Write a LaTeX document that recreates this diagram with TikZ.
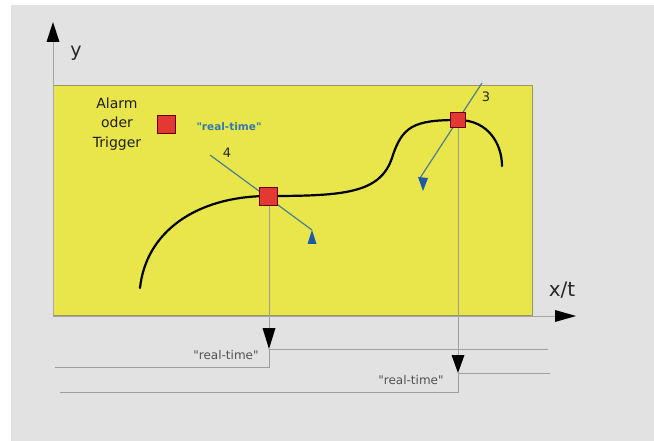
\documentclass[tikz,border=0pt]{standalone}
\usepackage{fontspec}
\setmainfont{DejaVu Sans}
\newcommand{\qrt}{\textquotedbl real-time\textquotedbl}
\begin{document}
\begin{tikzpicture}[x=1pt,y=-1pt,
  every node/.style={inner sep=0pt,outer sep=0pt},
  axisline/.style={draw=gray!70,line width=0.7pt},
  guide/.style={draw=gray!75,line width=0.6pt},
  tip/.style={fill=black},
  mark/.style={draw=red!40!black,fill=markred,line width=0.6pt,minimum size=#1},
  rt/.style={font=\fontsize{12}{14}\selectfont,text=black!68}]
\definecolor{bgray}{RGB}{226,226,226}
\definecolor{plotyellow}{RGB}{232,230,74}
\definecolor{rayblue}{RGB}{80,125,150}
\definecolor{tipblue}{RGB}{30,90,170}
\definecolor{rtblue}{RGB}{50,120,175}
\definecolor{markred}{RGB}{228,56,50}
% canvas
\useasboundingbox (0,0) rectangle (654,441);
\fill[white] (0,0) rectangle (654,441);
\fill[bgray] (11,5) rectangle (654,441);
% plot area
\fill[plotyellow,draw=black!20!olive!60!gray!80,line width=0.6pt] (53,85) rectangle (532,315);
% axes
\coordinate (o) at (53,316);
\coordinate (ytop) at (53,40);
\coordinate (xend) at (556,316);
\draw[axisline] (o) -- (ytop);
\draw[axisline] (o) -- (xend);
\fill[tip] (53,22) -- (46.5,42) -- (59.5,42) -- cycle;
\fill[tip] (576,316) -- (555,310) -- (555,322) -- cycle;
\node[font=\fontsize{19}{21}\selectfont,text=black!85] (ylbl) at (76,53) {y};
\node[font=\fontsize{20}{22}\selectfont,text=black!85] (xlbl) at (562,290) {x/t};
% legend
\node[align=center,font=\fontsize{14}{19.5}\selectfont,text=black!88] (alarm) at (117,124) {Alarm\\oder\\Trigger};
\node[mark=18pt] (legsq) at (166,124) {};
\node[font=\bfseries\fontsize{10.5}{12}\selectfont,text=rtblue] (rtleg) at (229,127) {\qrt};
% measured curve
\draw[line width=2.2pt,line cap=round] (140,288) .. controls (146,232) and (196,196) .. (269,196)
  .. controls (345,196) and (380,193) .. (392,158)
  .. controls (402,126) and (414,120) .. (458,120)
  .. controls (489,120) and (502,145) .. (502,166);
% vertical projections to the time lines
\coordinate (a4) at (269,328);
\coordinate (b4) at (269,367);
\coordinate (a3) at (458,355);
\coordinate (b3) at (458,392);
\draw[guide] (269,205) -- (a4);
\draw[guide] (458,128) -- (a3);
\fill[tip] (269,349) -- (262.5,328) -- (275.5,328) -- cycle;
\fill[tip] (458,373) -- (451.5,355) -- (464.5,355) -- cycle;
% time lines
\coordinate (r4) at (548,349);
\coordinate (l4) at (55,367);
\coordinate (r3) at (550,373);
\coordinate (l3) at (60,392);
\draw[guide] (r4) -- (269,349) -- (b4) -- (l4);
\draw[guide] (r3) -- (458,373) -- (b3) -- (l3);
\node[rt] (rt4) at (226,355) {\qrt};
\node[rt] (rt3) at (411,380) {\qrt};
% rays through the trigger points
\coordinate (s4) at (210,155);
\coordinate (e4) at (312,230);
\coordinate (s3) at (482,83);
\coordinate (e3) at (420,178);
\draw[draw=rayblue,line width=1.2pt] (s4) -- (e4);
\draw[draw=rayblue,line width=1.2pt] (s3) -- (e3);
\fill[tipblue] (e4) -- (307.5,244) -- (316.5,244) -- cycle;
\fill[tipblue] (418,177) -- (428,178) -- (423,191) -- cycle;
\node[font=\fontsize{13}{15}\selectfont,text=black!85] (n4) at (227,153) {4};
\node[font=\fontsize{13}{15}\selectfont,text=black!85] (n3) at (486,97) {3};
% trigger points
\node[mark=18pt] (sq4) at (268,196) {};
\node[mark=15pt] (sq3) at (458,120) {};
\end{tikzpicture}
\end{document}
